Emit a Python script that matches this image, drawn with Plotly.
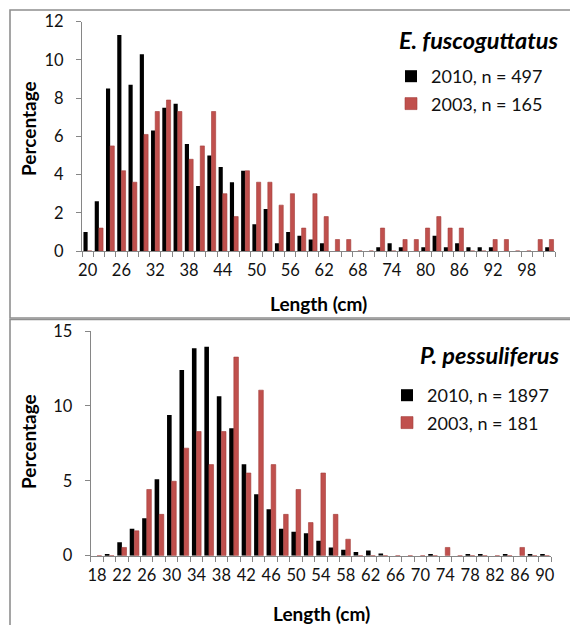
import plotly.graph_objects as go

# ---------------- data ----------------
top_species = "E. fuscoguttatus"
top_lengths = list(range(20, 104, 2))
top_2010 = [1.0, 2.6, 8.5, 11.3, 8.7, 10.3, 6.3, 7.5, 7.7, 5.6, 3.4, 5.0, 4.4, 3.6, 4.2,
            1.4, 2.2, 0.4, 1.0, 0.8, 0.6, 0.4, 0, 0, 0, 0, 0.2, 0.4, 0.2, 0, 0.2, 0.8,
            0.2, 0.4, 0.2, 0.2, 0.2, 0, 0, 0, 0, 0.2]
top_2003 = [0, 1.2, 5.5, 4.2, 3.6, 6.1, 7.3, 7.9, 7.3, 4.8, 5.5, 7.3, 3.0, 1.8, 4.2,
            3.6, 3.6, 2.4, 3.0, 1.2, 3.0, 1.8, 0.6, 0.6, 0, 0, 1.2, 0, 0.6, 0.6, 1.2, 1.8,
            1.2, 1.2, 0, 0, 0.6, 0.6, 0, 0, 0.6, 0.6]
top_tick_labels = list(range(20, 100, 6))
top_names = ["2010, n = 497", "2003, n = 165"]

bot_species = "P. pessuliferus"
bot_lengths = list(range(18, 92, 2))
bot_2010 = [0, 0.1, 0.9, 1.8, 2.5, 5.1, 9.4, 12.4, 13.85, 13.95, 10.65, 8.5, 6.1, 4.1,
            3.1, 1.8, 1.6, 1.5, 1.0, 0.55, 0.4, 0.25, 0.35, 0.15, 0, 0, 0, 0.1, 0, 0,
            0.1, 0.1, 0, 0.1, 0, 0.1, 0.1]
bot_2003 = [0, 0, 0.55, 1.66, 4.42, 2.76, 4.97, 7.18, 8.29, 6.08, 8.29, 13.26, 5.52,
            11.05, 6.08, 2.76, 4.42, 2.21, 5.52, 2.76, 1.10, 0, 0, 0, 0, 0, 0, 0, 0.55,
            0, 0, 0, 0, 0, 0.55, 0, 0]
bot_tick_labels = list(range(18, 92, 4))
bot_names = ["2010, n = 1897", "2003, n = 181"]

# ---------------- style ----------------
W, H = 570, 625
FONT = "Lato"
BLACK = "#000000"
RED = "#C0504D"
AXIS = "#868686"
TXT = "#111111"


def fx(p):
    return p / W


def fy(p):
    return 1 - p / H


fig = go.Figure()

# top panel
fig.add_trace(go.Bar(x=[str(v) for v in top_lengths], y=top_2010, name=top_names[0],
                     marker=dict(color=BLACK, line=dict(width=0)),
                     xaxis="x", yaxis="y", legend="legend", legendgroup="a"))
fig.add_trace(go.Bar(x=[str(v) for v in top_lengths], y=top_2003, name=top_names[1],
                     marker=dict(color=RED, line=dict(color="#a23c39", width=0.6)),
                     xaxis="x", yaxis="y", legend="legend", legendgroup="b"))
# bottom panel
fig.add_trace(go.Bar(x=[str(v) for v in bot_lengths], y=bot_2010, name=bot_names[0],
                     marker=dict(color=BLACK, line=dict(width=0)),
                     xaxis="x2", yaxis="y2", legend="legend2", legendgroup="c"))
fig.add_trace(go.Bar(x=[str(v) for v in bot_lengths], y=bot_2003, name=bot_names[1],
                     marker=dict(color=RED, line=dict(color="#a23c39", width=0.6)),
                     xaxis="x2", yaxis="y2", legend="legend2", legendgroup="d"))


def xaxis_cfg(lengths, labels, domain, anchor):
    return dict(
        type="category", domain=domain, anchor=anchor, automargin=False,
        range=[-0.5, len(lengths) - 0.5],
        tickmode="array", tickvals=[str(v) for v in lengths],
        ticktext=[str(v) if v in labels else "" for v in lengths],
        tickson="boundaries", ticks="outside", ticklen=5, tickcolor=AXIS, tickwidth=1,
        tickangle=0,
        showline=True, linecolor=AXIS, linewidth=1.3, showgrid=False, zeroline=False,
        tickfont=dict(family=FONT, size=16.5, color=TXT), ticklabelstandoff=4,
        fixedrange=True,
    )


def yaxis_cfg(rng, dtick, domain, anchor):
    return dict(
        domain=domain, anchor=anchor, range=rng, dtick=dtick, tick0=0, automargin=False,
        ticks="outside", ticklen=5, tickcolor=AXIS, tickwidth=1,
        showline=True, linecolor=AXIS, linewidth=1.3, showgrid=False, zeroline=False,
        tickfont=dict(family=FONT, size=16.5, color=TXT), ticklabelstandoff=9,
        fixedrange=True,
    )


leg_common = dict(bgcolor="rgba(0,0,0,0)", borderwidth=0,
                  font=dict(family=FONT, size=18, color=TXT),
                  tracegroupgap=1, xanchor="left", yanchor="top")

fig.update_layout(
    width=W, height=H,
    margin=dict(l=0, r=0, t=0, b=0, autoexpand=False),
    paper_bgcolor="white", plot_bgcolor="white",
    barmode="group", bargap=0.26, bargroupgap=0,
    xaxis=xaxis_cfg(top_lengths, top_tick_labels, [fx(82), fx(555)], "y"),
    yaxis=yaxis_cfg([0, 12], 2, [fy(251), fy(21.7)], "x"),
    xaxis2=xaxis_cfg(bot_lengths, bot_tick_labels, [fx(90.8), fx(551)], "y2"),
    yaxis2=yaxis_cfg([0, 15], 5, [fy(555.7), fy(331)], "x2"),
    legend=dict(x=fx(391), y=fy(58), **leg_common),
    legend2=dict(x=fx(387), y=fy(377), **leg_common),
    shapes=[
        dict(type="rect", xref="paper", yref="paper", x0=fx(10), x1=fx(580),
             y0=fy(318), y1=fy(10), line=dict(color="#8f8f8f", width=1.6)),
        dict(type="rect", xref="paper", yref="paper", x0=fx(10), x1=fx(580),
             y0=fy(640), y1=fy(319.5), line=dict(color="#8f8f8f", width=1.6)),
    ],
    annotations=[
        dict(text="<b><i>" + top_species + "</i></b>", xref="paper", yref="paper",
             x=fx(561), y=fy(40), xanchor="right", yanchor="middle", showarrow=False,
             font=dict(family=FONT, size=23.5, color="black")),
        dict(text="<b><i>" + bot_species + "</i></b>", xref="paper", yref="paper",
             x=fx(561), y=fy(355), xanchor="right", yanchor="middle", showarrow=False,
             font=dict(family=FONT, size=23.5, color="black")),
        dict(text="<b>Length (cm)</b>", xref="paper", yref="paper",
             x=fx(318), y=fy(303), xanchor="center", yanchor="middle", showarrow=False,
             font=dict(family=FONT, size=19, color="black")),
        dict(text="<b>Length (cm)</b>", xref="paper", yref="paper",
             x=fx(321), y=fy(613), xanchor="center", yanchor="middle", showarrow=False,
             font=dict(family=FONT, size=19, color="black")),
        dict(text="<b>Percentage</b>", xref="paper", yref="paper", textangle=-90,
             x=fx(28.5), y=fy(128.5), xanchor="center", yanchor="middle", showarrow=False,
             font=dict(family=FONT, size=19, color="black")),
        dict(text="<b>Percentage</b>", xref="paper", yref="paper", textangle=-90,
             x=fx(28.5), y=fy(441.5), xanchor="center", yanchor="middle", showarrow=False,
             font=dict(family=FONT, size=19, color="black")),
    ],
)

fig.write_html("out.html", config={"displayModeBar": False},
               post_script="document.body.style.margin='0';document.body.style.overflow='hidden';")
